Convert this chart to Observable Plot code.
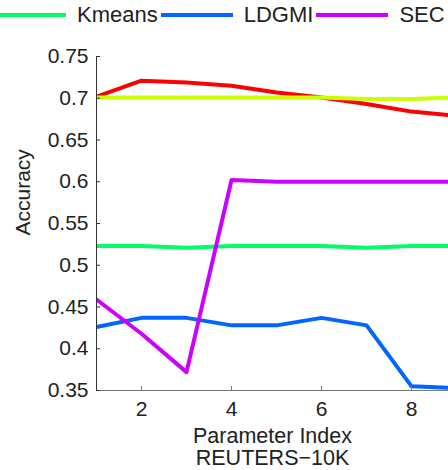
<!DOCTYPE html>
<html>
<head>
<meta charset="utf-8">
<script src="https://cdn.jsdelivr.net/npm/d3@7"></script>
<script src="https://cdn.jsdelivr.net/npm/@observablehq/plot@0.6"></script>
<style>
  body { margin: 0; background: #fff; }
  #wrap { position: relative; width: 448px; height: 470px; overflow: hidden; font-family: "Liberation Sans", Arial, Helvetica, sans-serif; color: #222; }
  #legend { position: relative; height: 30px; display: flex; align-items: center; margin-left: -6px; white-space: nowrap; font-size: 22px; }
  .item { display: flex; align-items: center; margin-right: 3px; }
  .swatch { width: 72px; height: 4px; margin-right: 11px; flex: none; }
</style>
</head>
<body>
<div id="wrap">
  <div id="legend"></div>
  <div id="chart"></div>
</div>
<script>
// ---- data ----
const paramIndex = [1, 2, 3, 4, 5, 6, 7, 8, 9];
const seriesNames = ["Red", "Yellow", "Kmeans", "LDGMI", "SEC"];
const seriesColors = ["#ff0000", "#ccff00", "#00ff66", "#0066ff", "#cc00ff"];
const redValues    = [0.702, 0.721, 0.719, 0.715, 0.707, 0.701, 0.693, 0.684, 0.679];
const yellowValues = [0.701, 0.701, 0.701, 0.701, 0.701, 0.701, 0.699, 0.699, 0.701];
const kmeansValues = [0.523, 0.523, 0.521, 0.523, 0.523, 0.523, 0.521, 0.523, 0.523];
const ldgmiValues  = [0.426, 0.437, 0.437, 0.428, 0.428, 0.437, 0.428, 0.355, 0.353];
const secValues    = [0.459, 0.418, 0.372, 0.602, 0.600, 0.600, 0.600, 0.600, 0.600];
const legendNames = ["Kmeans", "LDGMI", "SEC"];
const xTicks = [2, 4, 6, 8];
const yTicks = [0.35, 0.4, 0.45, 0.5, 0.55, 0.6, 0.65, 0.7, 0.75];
const yTickLabels = ["0.35", "0.4", "0.45", "0.5", "0.55", "0.6", "0.65", "0.7", "0.75"];
const xLabel = "Parameter Index";
const yLabel = "Accuracy";
const caption = "REUTERS\u221210K";

// ---- build ----
const allValues = [redValues, yellowValues, kmeansValues, ldgmiValues, secValues];
const rows = [];
seriesNames.forEach((name, i) => {
  paramIndex.forEach((x, j) => rows.push({series: name, x, y: allValues[i][j]}));
});

const legend = document.getElementById("legend");
legendNames.forEach(name => {
  const i = seriesNames.indexOf(name);
  const item = document.createElement("div");
  item.className = "item";
  const sw = document.createElement("span");
  sw.className = "swatch";
  sw.style.background = seriesColors[i];
  const label = document.createElement("span");
  label.textContent = name;
  item.appendChild(sw);
  item.appendChild(label);
  legend.appendChild(item);
});

const W = 448, H = 440, mT = 26, mB = 80, mL = 96, mR = 0;
const frameW = W - mL - mR, frameH = H - mT - mB;
const fontFamily = '"Liberation Sans", Arial, Helvetica, sans-serif';

const marks = [];
seriesNames.forEach((name, i) => {
  marks.push(Plot.line(rows.filter(d => d.series === name), {
    x: "x", y: "y", stroke: seriesColors[i], strokeWidth: 4,
    strokeLinejoin: "round", clip: true
  }));
});
marks.push(
  Plot.ruleX([1], {stroke: "#333", strokeWidth: 1}),
  Plot.ruleY([0.35], {stroke: "#777", strokeWidth: 1.2}),
  Plot.tickY(yTicks, {y: d => d, stroke: "#333", insetRight: frameW - 4}),
  Plot.tickX(xTicks, {x: d => d, stroke: "#777", insetTop: frameH - 4}),
  Plot.axisY(yTicks, {tickSize: 0, tickPadding: 8, tickFormat: d => yTickLabels[yTicks.indexOf(d)], label: null, fontSize: 21, fill: "#222"}),
  Plot.axisX(xTicks, {tickSize: 0, tickPadding: 11, label: null, fontSize: 21, fill: "#222"}),
  Plot.text([yLabel], {frameAnchor: "left", dx: -73, dy: 12, rotate: -90, fontSize: 21, fill: "#222", text: d => d}),
  Plot.text([xLabel], {frameAnchor: "bottom", lineAnchor: "middle", dy: 46, fontSize: 21.5, fill: "#222", text: d => d}),
  Plot.text([caption], {frameAnchor: "bottom", lineAnchor: "middle", dy: 68, fontSize: 21.5, fill: "#222", text: d => d})
);

const chart = Plot.plot({
  width: W, height: H,
  marginTop: mT, marginBottom: mB, marginLeft: mL, marginRight: mR,
  style: {fontFamily, fontSize: "21px", background: "#fff", color: "#222", overflow: "visible"},
  x: {domain: [1, 8.82], axis: null},
  y: {domain: [0.35, 0.75], axis: null},
  marks
});
document.getElementById("chart").appendChild(chart);
</script>
</body>
</html>
